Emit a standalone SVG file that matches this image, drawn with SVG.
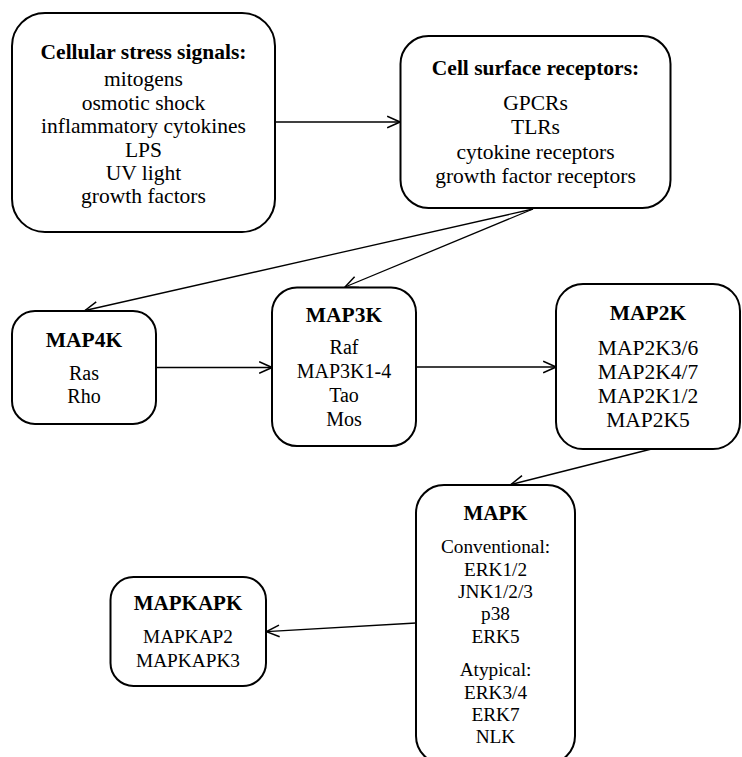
<svg xmlns="http://www.w3.org/2000/svg" width="742" height="757" viewBox="0 0 742 757">
<style>
  .box { fill: #fff; stroke: #000; stroke-width: 2; }
  .con line { stroke: #000; stroke-width: 1.3; marker-end: url(#arr); }
</style>
<defs>
  <marker id="arr" markerUnits="userSpaceOnUse" markerWidth="14" markerHeight="14" viewBox="0 0 12 12" refX="11.5" refY="6" orient="auto">
    <path d="M0.5,1 L11.5,6 L0.5,11" fill="none" stroke="#000" stroke-width="1.3"/>
  </marker>
</defs>
<rect width="742" height="757" fill="#fff"/>
<g id="connectors" class="con">
  <line x1="275" y1="122" x2="400" y2="122"/>
  <line x1="533" y1="209" x2="85" y2="310.5"/>
  <line x1="533" y1="209" x2="345" y2="287"/>
  <line x1="156" y1="367.5" x2="272" y2="367.5"/>
  <line x1="416" y1="367" x2="556" y2="367"/>
  <line x1="651.5" y1="449" x2="511" y2="484.5"/>
  <line x1="416" y1="623" x2="266.5" y2="631.7"/>
</g>
<g id="stress">
  <rect class="box" x="12" y="13" width="263" height="219" rx="33" ry="33"/>
  <text x="143.5" y="59" font-family="Liberation Serif" font-size="21.5" font-weight="bold" text-anchor="middle">Cellular stress signals:</text>
  <text x="143.5" y="86" font-family="Liberation Serif" font-size="21.5" text-anchor="middle">mitogens</text>
  <text x="143.5" y="109.5" font-family="Liberation Serif" font-size="21.5" text-anchor="middle">osmotic shock</text>
  <text x="143.5" y="133" font-family="Liberation Serif" font-size="21.5" text-anchor="middle">inflammatory cytokines</text>
  <text x="143.5" y="156.5" font-family="Liberation Serif" font-size="21.5" text-anchor="middle">LPS</text>
  <text x="143.5" y="180" font-family="Liberation Serif" font-size="21.5" text-anchor="middle">UV light</text>
  <text x="143.5" y="203.3" font-family="Liberation Serif" font-size="21.5" text-anchor="middle">growth factors</text>
</g>
<g id="receptors">
  <rect class="box" x="400.5" y="36" width="270" height="172" rx="28" ry="28"/>
  <text x="535.5" y="75" font-family="Liberation Serif" font-size="21.5" font-weight="bold" text-anchor="middle">Cell surface receptors:</text>
  <text x="535.5" y="110" font-family="Liberation Serif" font-size="21.5" text-anchor="middle">GPCRs</text>
  <text x="535.5" y="134.3" font-family="Liberation Serif" font-size="21.5" text-anchor="middle">TLRs</text>
  <text x="535.5" y="158.6" font-family="Liberation Serif" font-size="21.5" text-anchor="middle">cytokine receptors</text>
  <text x="535.5" y="183" font-family="Liberation Serif" font-size="21.5" text-anchor="middle">growth factor receptors</text>
</g>
<g id="map4k">
  <rect class="box" x="12" y="311" width="144" height="113" rx="23" ry="23"/>
  <text x="84" y="347" font-family="Liberation Serif" font-size="21.5" font-weight="bold" text-anchor="middle">MAP4K</text>
  <text x="84" y="380" font-family="Liberation Serif" font-size="20" text-anchor="middle">Ras</text>
  <text x="84" y="403" font-family="Liberation Serif" font-size="20" text-anchor="middle">Rho</text>
</g>
<g id="map3k">
  <rect class="box" x="272" y="287.5" width="144" height="158.5" rx="25" ry="25"/>
  <text x="344" y="322" font-family="Liberation Serif" font-size="21.5" font-weight="bold" text-anchor="middle">MAP3K</text>
  <text x="344" y="354" font-family="Liberation Serif" font-size="20" text-anchor="middle">Raf</text>
  <text x="344" y="378" font-family="Liberation Serif" font-size="20" text-anchor="middle">MAP3K1-4</text>
  <text x="344" y="402" font-family="Liberation Serif" font-size="20" text-anchor="middle">Tao</text>
  <text x="344" y="426" font-family="Liberation Serif" font-size="20" text-anchor="middle">Mos</text>
</g>
<g id="map2k">
  <rect class="box" x="556" y="284" width="184" height="165" rx="27" ry="27"/>
  <text x="648" y="320" font-family="Liberation Serif" font-size="21.5" font-weight="bold" text-anchor="middle">MAP2K</text>
  <text x="648" y="355" font-family="Liberation Serif" font-size="21.5" text-anchor="middle">MAP2K3/6</text>
  <text x="648" y="379" font-family="Liberation Serif" font-size="21.5" text-anchor="middle">MAP2K4/7</text>
  <text x="648" y="403" font-family="Liberation Serif" font-size="21.5" text-anchor="middle">MAP2K1/2</text>
  <text x="648" y="427" font-family="Liberation Serif" font-size="21.5" text-anchor="middle">MAP2K5</text>
</g>
<g id="mapk">
  <rect class="box" x="416" y="485" width="159" height="279" rx="28" ry="28"/>
  <text x="495.5" y="520" font-family="Liberation Serif" font-size="21" font-weight="bold" text-anchor="middle">MAPK</text>
  <text x="495.5" y="553" font-family="Liberation Serif" font-size="19.3" text-anchor="middle">Conventional:</text>
  <text x="495.5" y="575.5" font-family="Liberation Serif" font-size="19.3" text-anchor="middle">ERK1/2</text>
  <text x="495.5" y="598" font-family="Liberation Serif" font-size="19.3" text-anchor="middle">JNK1/2/3</text>
  <text x="495.5" y="620" font-family="Liberation Serif" font-size="19.3" text-anchor="middle">p38</text>
  <text x="495.5" y="642.5" font-family="Liberation Serif" font-size="19.3" text-anchor="middle">ERK5</text>
  <text x="495.5" y="676" font-family="Liberation Serif" font-size="19.3" text-anchor="middle">Atypical:</text>
  <text x="495.5" y="698.5" font-family="Liberation Serif" font-size="19.3" text-anchor="middle">ERK3/4</text>
  <text x="495.5" y="721" font-family="Liberation Serif" font-size="19.3" text-anchor="middle">ERK7</text>
  <text x="495.5" y="743" font-family="Liberation Serif" font-size="19.3" text-anchor="middle">NLK</text>
</g>
<g id="mapkapk">
  <rect class="box" x="110.5" y="577" width="155.5" height="109" rx="23" ry="23"/>
  <text x="188" y="610" font-family="Liberation Serif" font-size="21" font-weight="bold" text-anchor="middle">MAPKAPK</text>
  <text x="188" y="643.3" font-family="Liberation Serif" font-size="19.3" text-anchor="middle">MAPKAP2</text>
  <text x="188" y="666.7" font-family="Liberation Serif" font-size="19.3" text-anchor="middle">MAPKAPK3</text>
</g>
</svg>
